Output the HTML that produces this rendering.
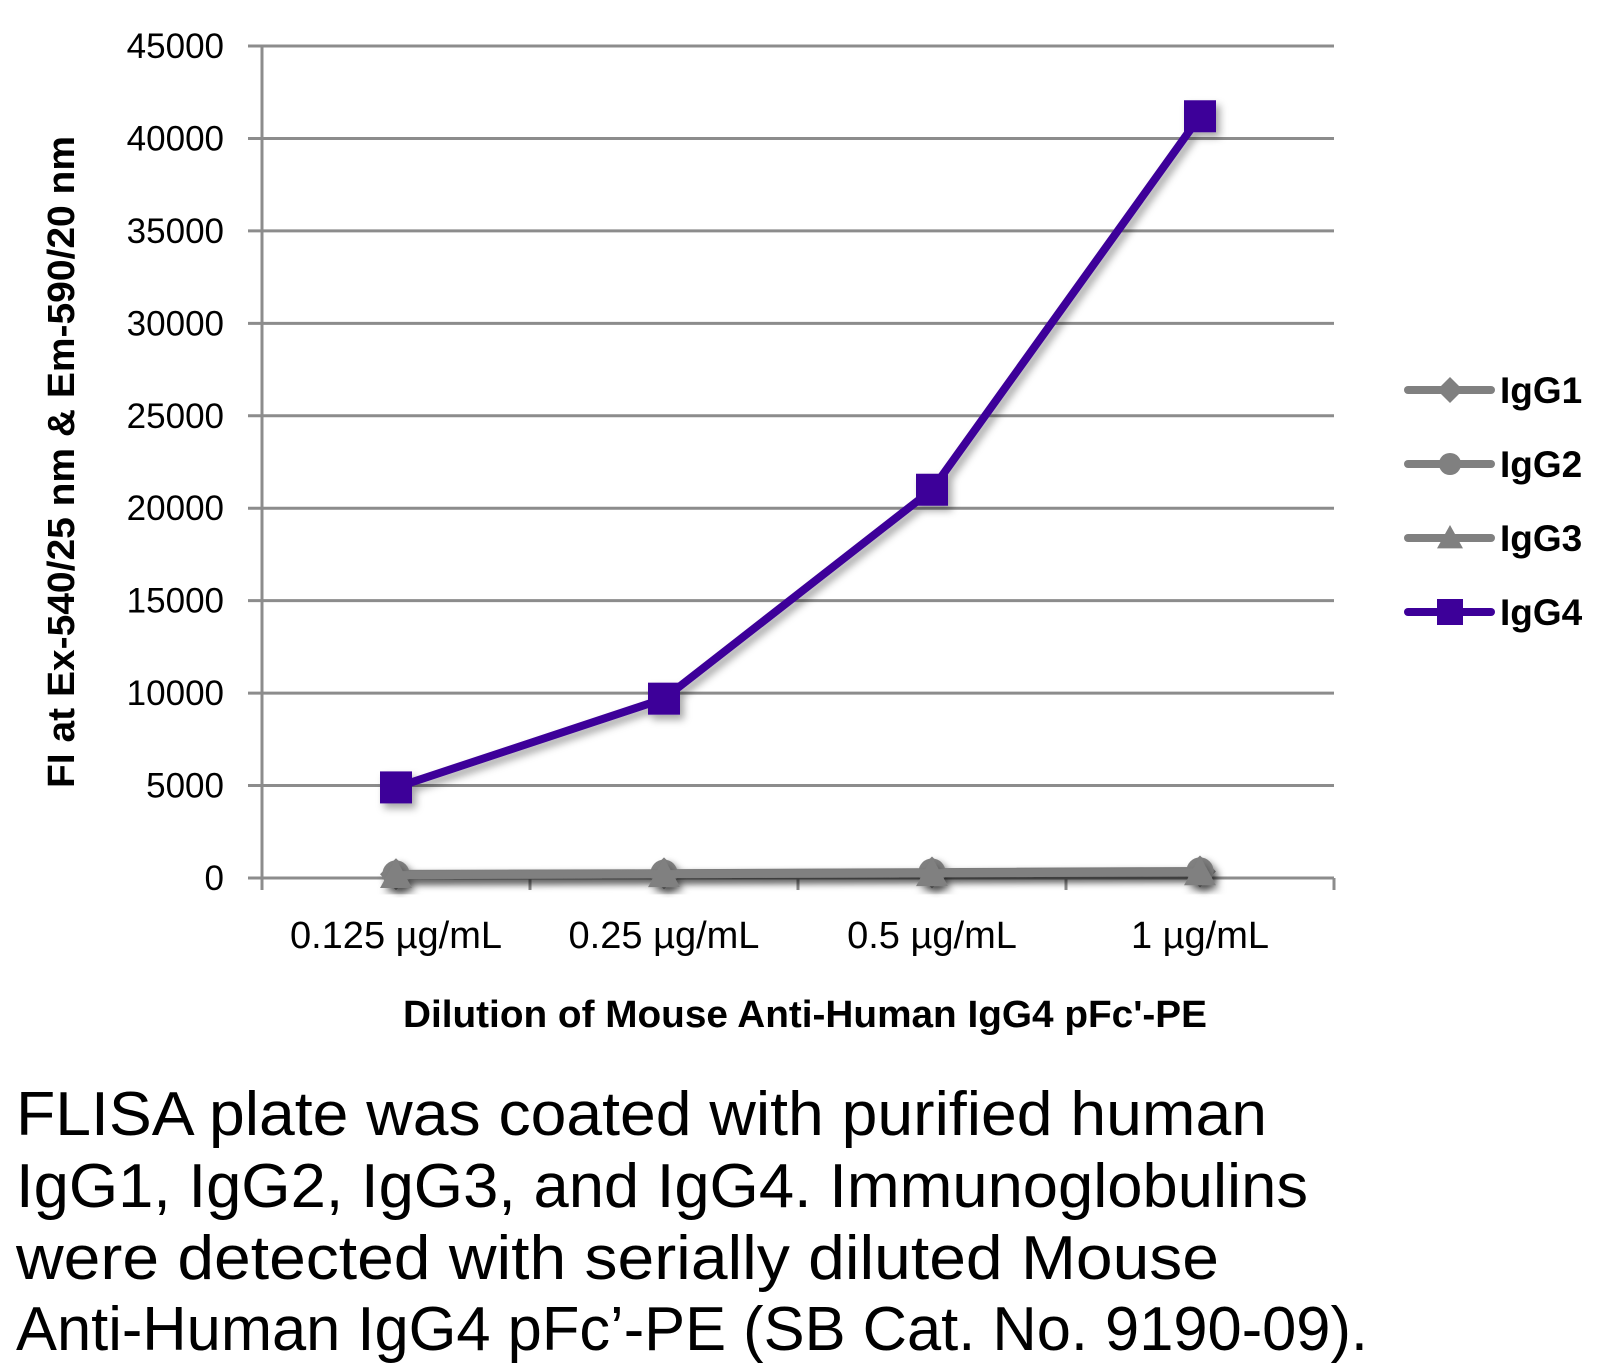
<!DOCTYPE html>
<html><head><meta charset="utf-8"><style>
html,body{margin:0;padding:0;background:#fff;}
svg{display:block;}
text{font-family:"Liberation Sans Narrow","Liberation Sans",sans-serif;}
</style></head><body>
<svg id="chart" width="1618" height="1371" viewBox="0 0 1618 1371">
<defs><filter id="sh" x="-20%" y="-20%" width="140%" height="140%"><feDropShadow dx="4" dy="5" stdDeviation="4" flood-color="#000" flood-opacity="0.35"/></filter></defs>
<g id="grid"></g>
<g id="yticks"></g>
<g id="xticks"></g>
<g id="series"></g>
<text transform="translate(74,462) rotate(-90)" text-anchor="middle" font-size="38" font-weight="bold" textLength="652" lengthAdjust="spacingAndGlyphs">FI at Ex-540/25 nm &amp; Em-590/20 nm</text>
<text x="805" y="1027" text-anchor="middle" font-size="38" font-weight="bold" textLength="804" lengthAdjust="spacingAndGlyphs">Dilution of Mouse Anti-Human IgG4 pFc'-PE</text>
<g id="legend"></g>
<g font-size="62">
<text x="16" y="1135" textLength="1251" lengthAdjust="spacingAndGlyphs">FLISA plate was coated with purified human</text>
<text x="16" y="1207" textLength="1292" lengthAdjust="spacingAndGlyphs">IgG1, IgG2, IgG3, and IgG4.  Immunoglobulins</text>
<text x="16" y="1279" textLength="1203" lengthAdjust="spacingAndGlyphs">were detected with serially diluted Mouse</text>
<text x="16" y="1350" textLength="1352" lengthAdjust="spacingAndGlyphs">Anti-Human IgG4 pFc’-PE (SB Cat. No. 9190-09).</text>
</g>
</svg>
<script>
const categories=["0.125 µg/mL","0.25 µg/mL","0.5 µg/mL","1 µg/mL"];
const yTicks=[0,5000,10000,15000,20000,25000,30000,35000,40000,45000];
const seriesNames=["IgG1","IgG2","IgG3","IgG4"];
const igg1=[200,250,300,350];
const igg2=[220,260,320,380];
const igg3=[150,200,250,300];
const igg4=[4900,9700,21000,41200];
const NS="http://www.w3.org/2000/svg";
const X0=262,X1=1334,Y0=878,YT=46,YMAX=45000;
const y=v=>Y0-(v/YMAX)*(Y0-YT);
const band=(X1-X0)/categories.length;
const x=i=>X0+band*(i+0.5);
function el(t,a,p){const e=document.createElementNS(NS,t);for(const k in a)e.setAttribute(k,a[k]);p.appendChild(e);return e;}
const grid=document.getElementById('grid'),yt=document.getElementById('yticks'),xt=document.getElementById('xticks');
yTicks.forEach(v=>{
 const l=el('line',{x1:X0-14,x2:X1,y1:y(v),y2:y(v),stroke:'#8c8c8c','stroke-width':3},grid);
 
 
 const t=el('text',{x:224,y:y(v)+12,'text-anchor':'end','font-size':35},yt);t.textContent=v;
 
 
});
el('line',{x1:X0,x2:X0,y1:YT,y2:Y0+10,stroke:'#8c8c8c','stroke-width':3},grid);
for(let i=0;i<=categories.length;i++){el('line',{x1:X0+band*i,x2:X0+band*i,y1:Y0,y2:Y0+12,stroke:'#8c8c8c','stroke-width':3},grid);}
categories.forEach((c,i)=>{const t=el('text',{x:x(i),y:948,'text-anchor':'middle','font-size':38},xt);t.textContent=c;
 
 });
const ser=document.getElementById('series');
const data=[igg1,igg2,igg3,igg4];
const colors=['#808080','#808080','#808080','#3d0099'];
const shapes=['diamond','circle','triangle','square'];
function marker(g,s,cx,cy,c,r){
 if(s==='diamond')return el('polygon',{points:`${cx},${cy-r} ${cx+r},${cy} ${cx},${cy+r} ${cx-r},${cy}`,fill:c},g);
 if(s==='circle')return el('circle',{cx,cy,r:r*0.85,fill:c},g);
 if(s==='triangle')return el('polygon',{points:`${cx},${cy-r} ${cx+r},${cy+r*0.8} ${cx-r},${cy+r*0.8}`,fill:c},g);
 return el('rect',{x:cx-r,y:cy-r,width:2*r,height:2*r,fill:c},g);
}
data.forEach((d,si)=>{
 const g=el('g',{filter:'url(#sh)'},ser);
 
 
 el('polyline',{points:d.map((v,i)=>x(i)+','+y(v)).join(' '),fill:'none',stroke:colors[si],'stroke-width':8,'stroke-linejoin':'round'},g);
 d.forEach((v,i)=>{const m=marker(g,shapes[si],x(i),y(v),colors[si],16);
  
  });
});
const lg=document.getElementById('legend');
seriesNames.forEach((n,i)=>{
 const cy=390+74*i;
 const g=el('g',{},lg);
 
 
 el('line',{x1:1408,x2:1491,y1:cy,y2:cy,stroke:colors[i],'stroke-width':8,'stroke-linecap':'round'},g);
 marker(g,shapes[i],1450,cy,colors[i],13);
 const t=el('text',{x:1500,y:cy+13,'font-size':37,'font-weight':'bold'},g);t.textContent=n;
});
</script>
</body></html>
